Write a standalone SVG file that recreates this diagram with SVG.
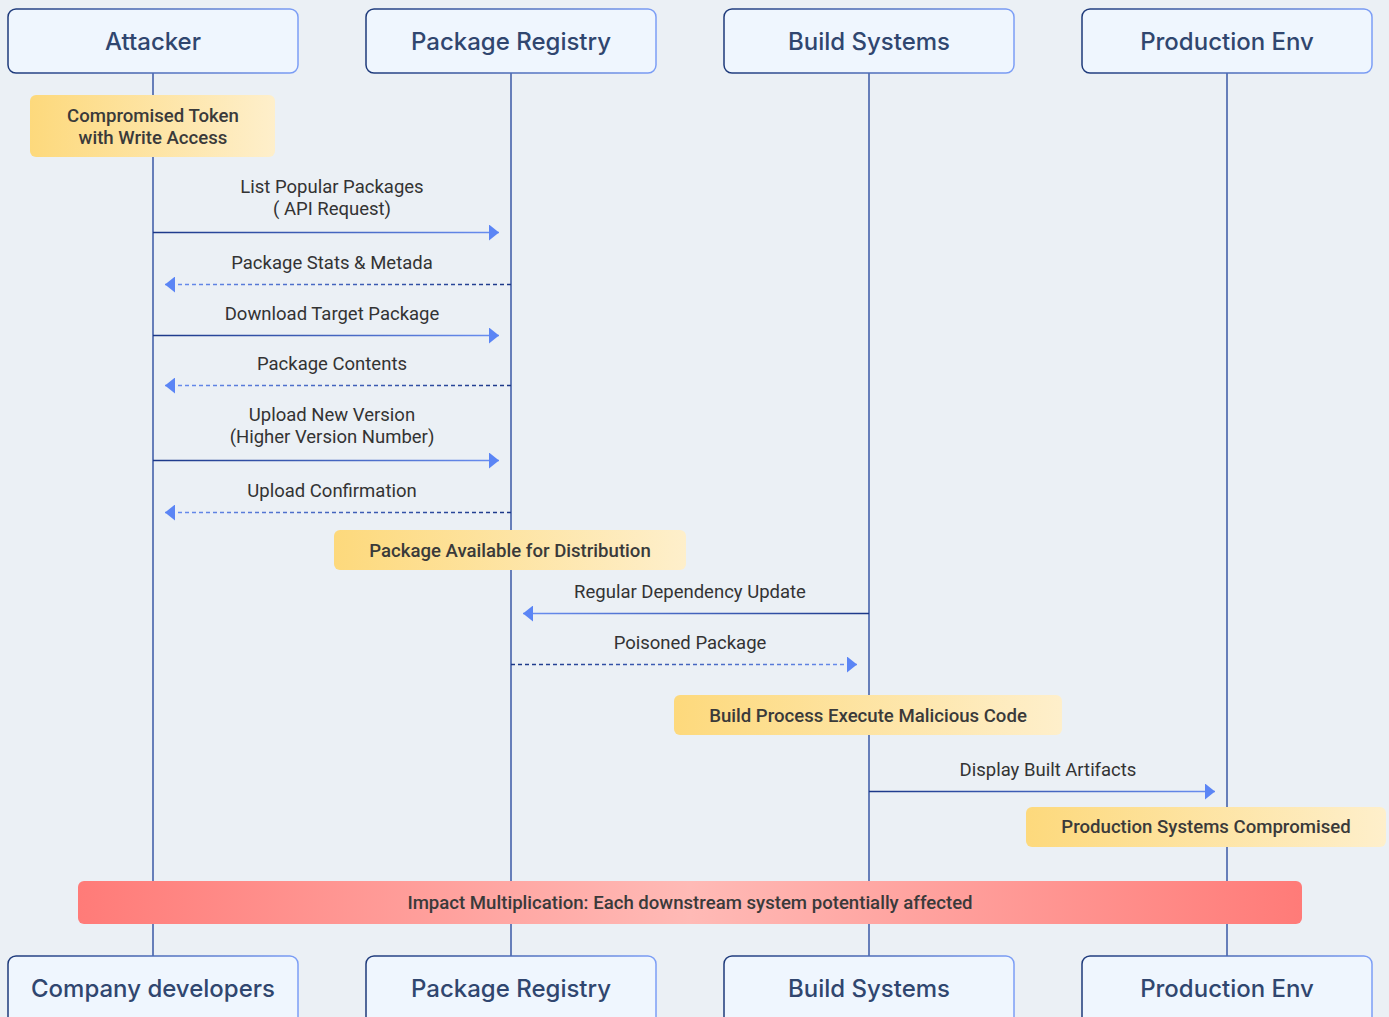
<svg xmlns="http://www.w3.org/2000/svg" width="1389" height="1017" viewBox="0 0 1389 1017">
  <defs>
    <linearGradient id="boxStroke" x1="0" y1="0" x2="1" y2="0">
      <stop offset="0" stop-color="#1e3a7a"/>
      <stop offset="1" stop-color="#7c9ef6"/>
    </linearGradient>
    <linearGradient id="noteFill" x1="0" y1="0" x2="1" y2="0">
      <stop offset="0" stop-color="#fdd97c"/>
      <stop offset="1" stop-color="#feefcb"/>
    </linearGradient>
    <linearGradient id="impactFill" x1="0" y1="0" x2="1" y2="0">
      <stop offset="0" stop-color="#ff7b78"/>
      <stop offset="0.5" stop-color="#ffbab6"/>
      <stop offset="1" stop-color="#ff7b78"/>
    </linearGradient>
    <marker id="head" viewBox="0 0 10 16" refX="10" refY="8" markerWidth="10" markerHeight="16" markerUnits="userSpaceOnUse" orient="auto">
      <path d="M0,0 L10,8 L0,16 Z" fill="#5b85f5"/>
    </marker>
    <!-- connector strokes fade from navy at the sender to light blue at the receiver -->
    <linearGradient id="g1" gradientUnits="userSpaceOnUse" x1="153" y1="0" x2="499" y2="0"><stop offset="0" stop-color="#1b3787"/><stop offset="1" stop-color="#6a8ff2"/></linearGradient>
    <linearGradient id="g2" gradientUnits="userSpaceOnUse" x1="511" y1="0" x2="165" y2="0"><stop offset="0" stop-color="#1b3787"/><stop offset="1" stop-color="#6a8ff2"/></linearGradient>
    <linearGradient id="g7" gradientUnits="userSpaceOnUse" x1="869" y1="0" x2="523" y2="0"><stop offset="0" stop-color="#1b3787"/><stop offset="1" stop-color="#6a8ff2"/></linearGradient>
    <linearGradient id="g8" gradientUnits="userSpaceOnUse" x1="511" y1="0" x2="857" y2="0"><stop offset="0" stop-color="#1b3787"/><stop offset="1" stop-color="#6a8ff2"/></linearGradient>
    <linearGradient id="g9" gradientUnits="userSpaceOnUse" x1="869" y1="0" x2="1215" y2="0"><stop offset="0" stop-color="#1b3787"/><stop offset="1" stop-color="#6a8ff2"/></linearGradient>
  </defs>
  <style>
    .box { fill: #eff6fe; stroke: url(#boxStroke); stroke-width: 1.5; }
    .title { font-family: Inter, "Noto Sans", sans-serif; font-size: 24px; font-weight: 500; fill: #30466f; text-anchor: middle; dominant-baseline: central; }
    .life { stroke: #3a58a4; stroke-width: 1.5; fill: none; }
    .msg { stroke-width: 1.5; fill: none; marker-end: url(#head); }
    .dash { stroke-dasharray: 4 3; }
    .label { font-family: Roboto, "Liberation Sans", sans-serif; font-size: 18.5px; fill: #333333; text-anchor: middle; dominant-baseline: central; }
    .note { fill: url(#noteFill); }
    .notetext { font-family: Roboto, "Liberation Sans", sans-serif; font-size: 18.6px; font-weight: 500; fill: #3a3a3a; text-anchor: middle; dominant-baseline: central; }
  </style>
  <rect width="1389" height="1017" fill="#ebf0f5"/>

  <g id="lifelines">
    <line class="life" x1="153" y1="73" x2="153" y2="956"/>
    <line class="life" x1="511" y1="73" x2="511" y2="956"/>
    <line class="life" x1="869" y1="73" x2="869" y2="956"/>
    <line class="life" x1="1227" y1="73" x2="1227" y2="956"/>
  </g>

  <g id="attacker"><rect class="box" x="8" y="9" width="290" height="64" rx="8"/><text class="title" x="153" y="41">Attacker</text></g>
  <g id="registry"><rect class="box" x="366" y="9" width="290" height="64" rx="8"/><text class="title" x="511" y="41">Package Registry</text></g>
  <g id="build"><rect class="box" x="724" y="9" width="290" height="64" rx="8"/><text class="title" x="869" y="41">Build Systems</text></g>
  <g id="prod"><rect class="box" x="1082" y="9" width="290" height="64" rx="8"/><text class="title" x="1227" y="41">Production Env</text></g>

  <g id="attacker-bottom"><rect class="box" x="8" y="956" width="290" height="70" rx="8"/><text class="title" x="153" y="988">Company developers</text></g>
  <g id="registry-bottom"><rect class="box" x="366" y="956" width="290" height="70" rx="8"/><text class="title" x="511" y="988">Package Registry</text></g>
  <g id="build-bottom"><rect class="box" x="724" y="956" width="290" height="70" rx="8"/><text class="title" x="869" y="988">Build Systems</text></g>
  <g id="prod-bottom"><rect class="box" x="1082" y="956" width="290" height="70" rx="8"/><text class="title" x="1227" y="988">Production Env</text></g>

  <g id="note-token"><rect class="note" x="30" y="95" width="245" height="62" rx="6"/><text class="notetext" x="153" y="116">Compromised Token</text><text class="notetext" x="153" y="138">with Write Access</text></g>
  <g id="note-available"><rect class="note" x="334" y="530" width="352" height="40" rx="6"/><text class="notetext" x="510" y="551">Package Available for Distribution</text></g>
  <g id="note-build"><rect class="note" x="674" y="695" width="388" height="40" rx="6"/><text class="notetext" x="868" y="716">Build Process Execute Malicious Code</text></g>
  <g id="note-prod"><rect class="note" x="1026" y="807" width="360" height="40" rx="6"/><text class="notetext" x="1206" y="827">Production Systems Compromised</text></g>
  <g id="impact"><rect x="78" y="881" width="1224" height="43" rx="6" fill="url(#impactFill)"/><text class="notetext" x="690" y="902.5">Impact Multiplication: Each downstream system potentially affected</text></g>

  <g id="connectors">
    <text class="label" x="332" y="187">List Popular Packages</text>
    <text class="label" x="332" y="209">( API Request)</text>
    <line class="msg" stroke="url(#g1)" x1="153" y1="232.5" x2="499" y2="232.5"/>

    <text class="label" x="332" y="263">Package Stats &amp; Metada</text>
    <line class="msg dash" stroke="url(#g2)" x1="511" y1="284.5" x2="165" y2="284.5"/>

    <text class="label" x="332" y="314">Download Target Package</text>
    <line class="msg" stroke="url(#g1)" x1="153" y1="335.5" x2="499" y2="335.5"/>

    <text class="label" x="332" y="364">Package Contents</text>
    <line class="msg dash" stroke="url(#g2)" x1="511" y1="385.5" x2="165" y2="385.5"/>

    <text class="label" x="332" y="415">Upload New Version</text>
    <text class="label" x="332" y="437">(Higher Version Number)</text>
    <line class="msg" stroke="url(#g1)" x1="153" y1="460.5" x2="499" y2="460.5"/>

    <text class="label" x="332" y="491">Upload Confirmation</text>
    <line class="msg dash" stroke="url(#g2)" x1="511" y1="512.5" x2="165" y2="512.5"/>

    <text class="label" x="690" y="592">Regular Dependency Update</text>
    <line class="msg" stroke="url(#g7)" x1="869" y1="613.5" x2="523" y2="613.5"/>

    <text class="label" x="690" y="643">Poisoned Package</text>
    <line class="msg dash" stroke="url(#g8)" x1="511" y1="664.5" x2="857" y2="664.5"/>

    <text class="label" x="1048" y="770">Display Built Artifacts</text>
    <line class="msg" stroke="url(#g9)" x1="869" y1="791.5" x2="1215" y2="791.5"/>
  </g>
</svg>
